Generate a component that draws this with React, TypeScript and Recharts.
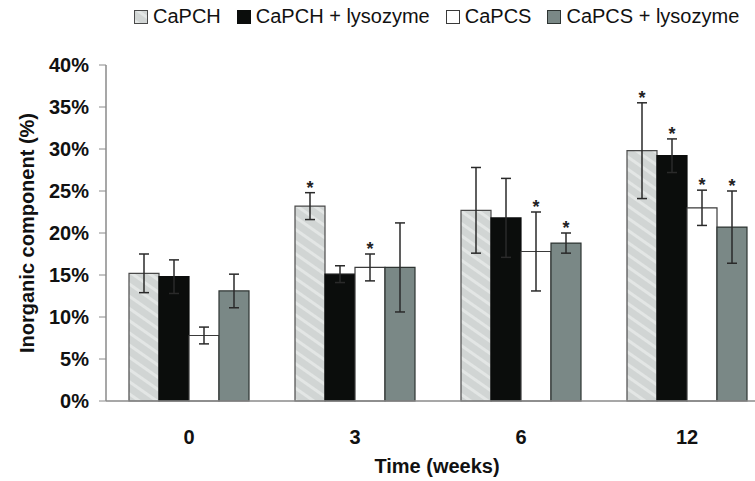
import React from "react";
import { Bar, BarChart, ErrorBar, LabelList, XAxis, YAxis } from "recharts";

const weeks = ["0", "3", "6", "12"];

const capch = [15.2, 23.2, 22.7, 29.8];
const capchErr = [2.3, 1.6, 5.1, 5.7];
const capchSig = [false, true, false, true];

const capchLys = [14.8, 15.1, 21.8, 29.2];
const capchLysErr = [2.0, 1.0, 4.7, 2.0];
const capchLysSig = [false, false, false, true];

const capcs = [7.8, 15.9, 17.8, 23.0];
const capcsErr = [1.0, 1.6, 4.7, 2.1];
const capcsSig = [false, true, true, true];

const capcsLys = [13.1, 15.9, 18.8, 20.7];
const capcsLysErr = [2.0, 5.3, 1.2, 4.3];
const capcsLysSig = [false, false, true, true];

const yTicks = [0, 5, 10, 15, 20, 25, 30, 35, 40];

const series = [
  { key: "capch", name: "CaPCH", err: "capchErr", sig: capchSig, fill: "url(#hatch)", stroke: "#4a4a4a" },
  { key: "capchLys", name: "CaPCH + lysozyme", err: "capchLysErr", sig: capchLysSig, fill: "#0b0d0c", stroke: "#0b0d0c" },
  { key: "capcs", name: "CaPCS", err: "capcsErr", sig: capcsSig, fill: "#ffffff", stroke: "#3a3a3a" },
  { key: "capcsLys", name: "CaPCS + lysozyme", err: "capcsLysErr", sig: capcsLysSig, fill: "#7a8886", stroke: "#2e3432" },
];

const data = weeks.map((w, i) => ({
  week: w,
  capch: capch[i],
  capchErr: capchErr[i],
  capchLys: capchLys[i],
  capchLysErr: capchLysErr[i],
  capcs: capcs[i],
  capcsErr: capcsErr[i],
  capcsLys: capcsLys[i],
  capcsLysErr: capcsLysErr[i],
}));

const FONT = "'Liberation Sans', Arial, sans-serif";

// asterisk sits just above the top cap of the error bar
const makeStar = (sig: boolean[], errs: number[], values: number[]) => (props: any) => {
  const { x, y, width, height, index } = props;
  if (!sig[index]) return null;
  const pxPerUnit = height / values[index];
  const capY = y - errs[index] * pxPerUnit;
  return (
    <text x={x + width / 2} y={capY + 1} textAnchor="middle" fontSize={18} fontWeight="bold" fontFamily={FONT} fill="#222">
      *
    </text>
  );
};

const errFor: Record<string, number[]> = { capch: capchErr, capchLys: capchLysErr, capcs: capcsErr, capcsLys: capcsLysErr };
const valFor: Record<string, number[]> = { capch, capchLys, capcs, capcsLys };

const HatchDefs = () => (
  <defs>
    <pattern id="hatch" patternUnits="userSpaceOnUse" width="10" height="10" patternTransform="rotate(-55)">
      <rect width="10" height="10" fill="#d1d5d4" />
      <rect width="3" height="10" fill="#e3e6e5" />
    </pattern>
  </defs>
);

const Swatch = ({ fill, stroke }: { fill: string; stroke: string }) => (
  <svg width={14} height={14} style={{ display: "block" }}>
    <HatchDefs />
    <rect x={0.5} y={0.5} width={13} height={13} fill={fill} stroke={stroke} />
  </svg>
);

const App = () => {
  return (
    <div style={{ position: "relative", width: 755, height: 481, overflow: "hidden", background: "#fff" }}>
      <style>{"body{margin:0}"}</style>
      <BarChart
        width={770}
        height={481}
        data={data}
        margin={{ top: 65, right: 0, bottom: 0, left: 0 }}
        barGap={0}
        barCategoryGap={23}
      >
        <HatchDefs />
        <XAxis
          xAxisId="bounds"
          type="number"
          domain={[0, 4]}
          ticks={[0, 1, 2, 3, 4]}
          height={0}
          axisLine={false}
          tick={false}
          tickLine={{ stroke: "#8a8a8a" }}
          tickSize={6}
        />
        <XAxis
          dataKey="week"
          height={80}
          axisLine={{ stroke: "#8a8a8a", strokeWidth: 1.5 }}
          tickLine={false}
          tickMargin={23}
          tick={{ fill: "#111", fontSize: 20, fontWeight: "bold", fontFamily: FONT }}
        />
        <YAxis
          width={106}
          domain={[0, 40]}
          ticks={yTicks}
          interval={0}
          tickFormatter={(v) => `${v}%`}
          axisLine={{ stroke: "#8a8a8a", strokeWidth: 1.5 }}
          tickLine={{ stroke: "#8a8a8a" }}
          tickSize={7}
          tickMargin={10}
          tick={{ fill: "#111", fontSize: 20, fontWeight: "bold", fontFamily: FONT }}
        />
        {series.map((s) => (
          <Bar
            key={s.key}
            dataKey={s.key}
            fill={s.fill}
            stroke={s.stroke}
            strokeWidth={1.2}
            barSize={30}
            isAnimationActive={false}
          >
            <ErrorBar dataKey={s.err} width={5} stroke="#2a2a2a" strokeWidth={1.5} direction="y" />
            <LabelList content={makeStar(s.sig, errFor[s.key], valFor[s.key])} />
          </Bar>
        ))}
      </BarChart>

      <svg width={755} height={481} style={{ position: "absolute", left: 0, top: 0, pointerEvents: "none" }}>
        <text
          x={0}
          y={0}
          transform="translate(34 233) rotate(-90)"
          textAnchor="middle"
          fontSize={20}
          fontWeight="bold"
          fontFamily={FONT}
          fill="#111"
        >
          Inorganic component (%)
        </text>
        <text x={437} y={473} textAnchor="middle" fontSize={20} fontWeight="bold" fontFamily={FONT} fill="#111">
          Time (weeks)
        </text>
      </svg>

      <div
        style={{
          position: "absolute",
          top: 5,
          left: 134,
          display: "flex",
          alignItems: "center",
          fontFamily: FONT,
          fontSize: 20,
          color: "#111",
          whiteSpace: "nowrap",
        }}
      >
        {series.map((s) => (
          <div key={s.key} style={{ display: "flex", alignItems: "center", marginRight: 16 }}>
            <Swatch fill={s.fill} stroke={s.stroke} />
            <span style={{ marginLeft: 5 }}>{s.name}</span>
          </div>
        ))}
      </div>
    </div>
  );
};

export default App;
